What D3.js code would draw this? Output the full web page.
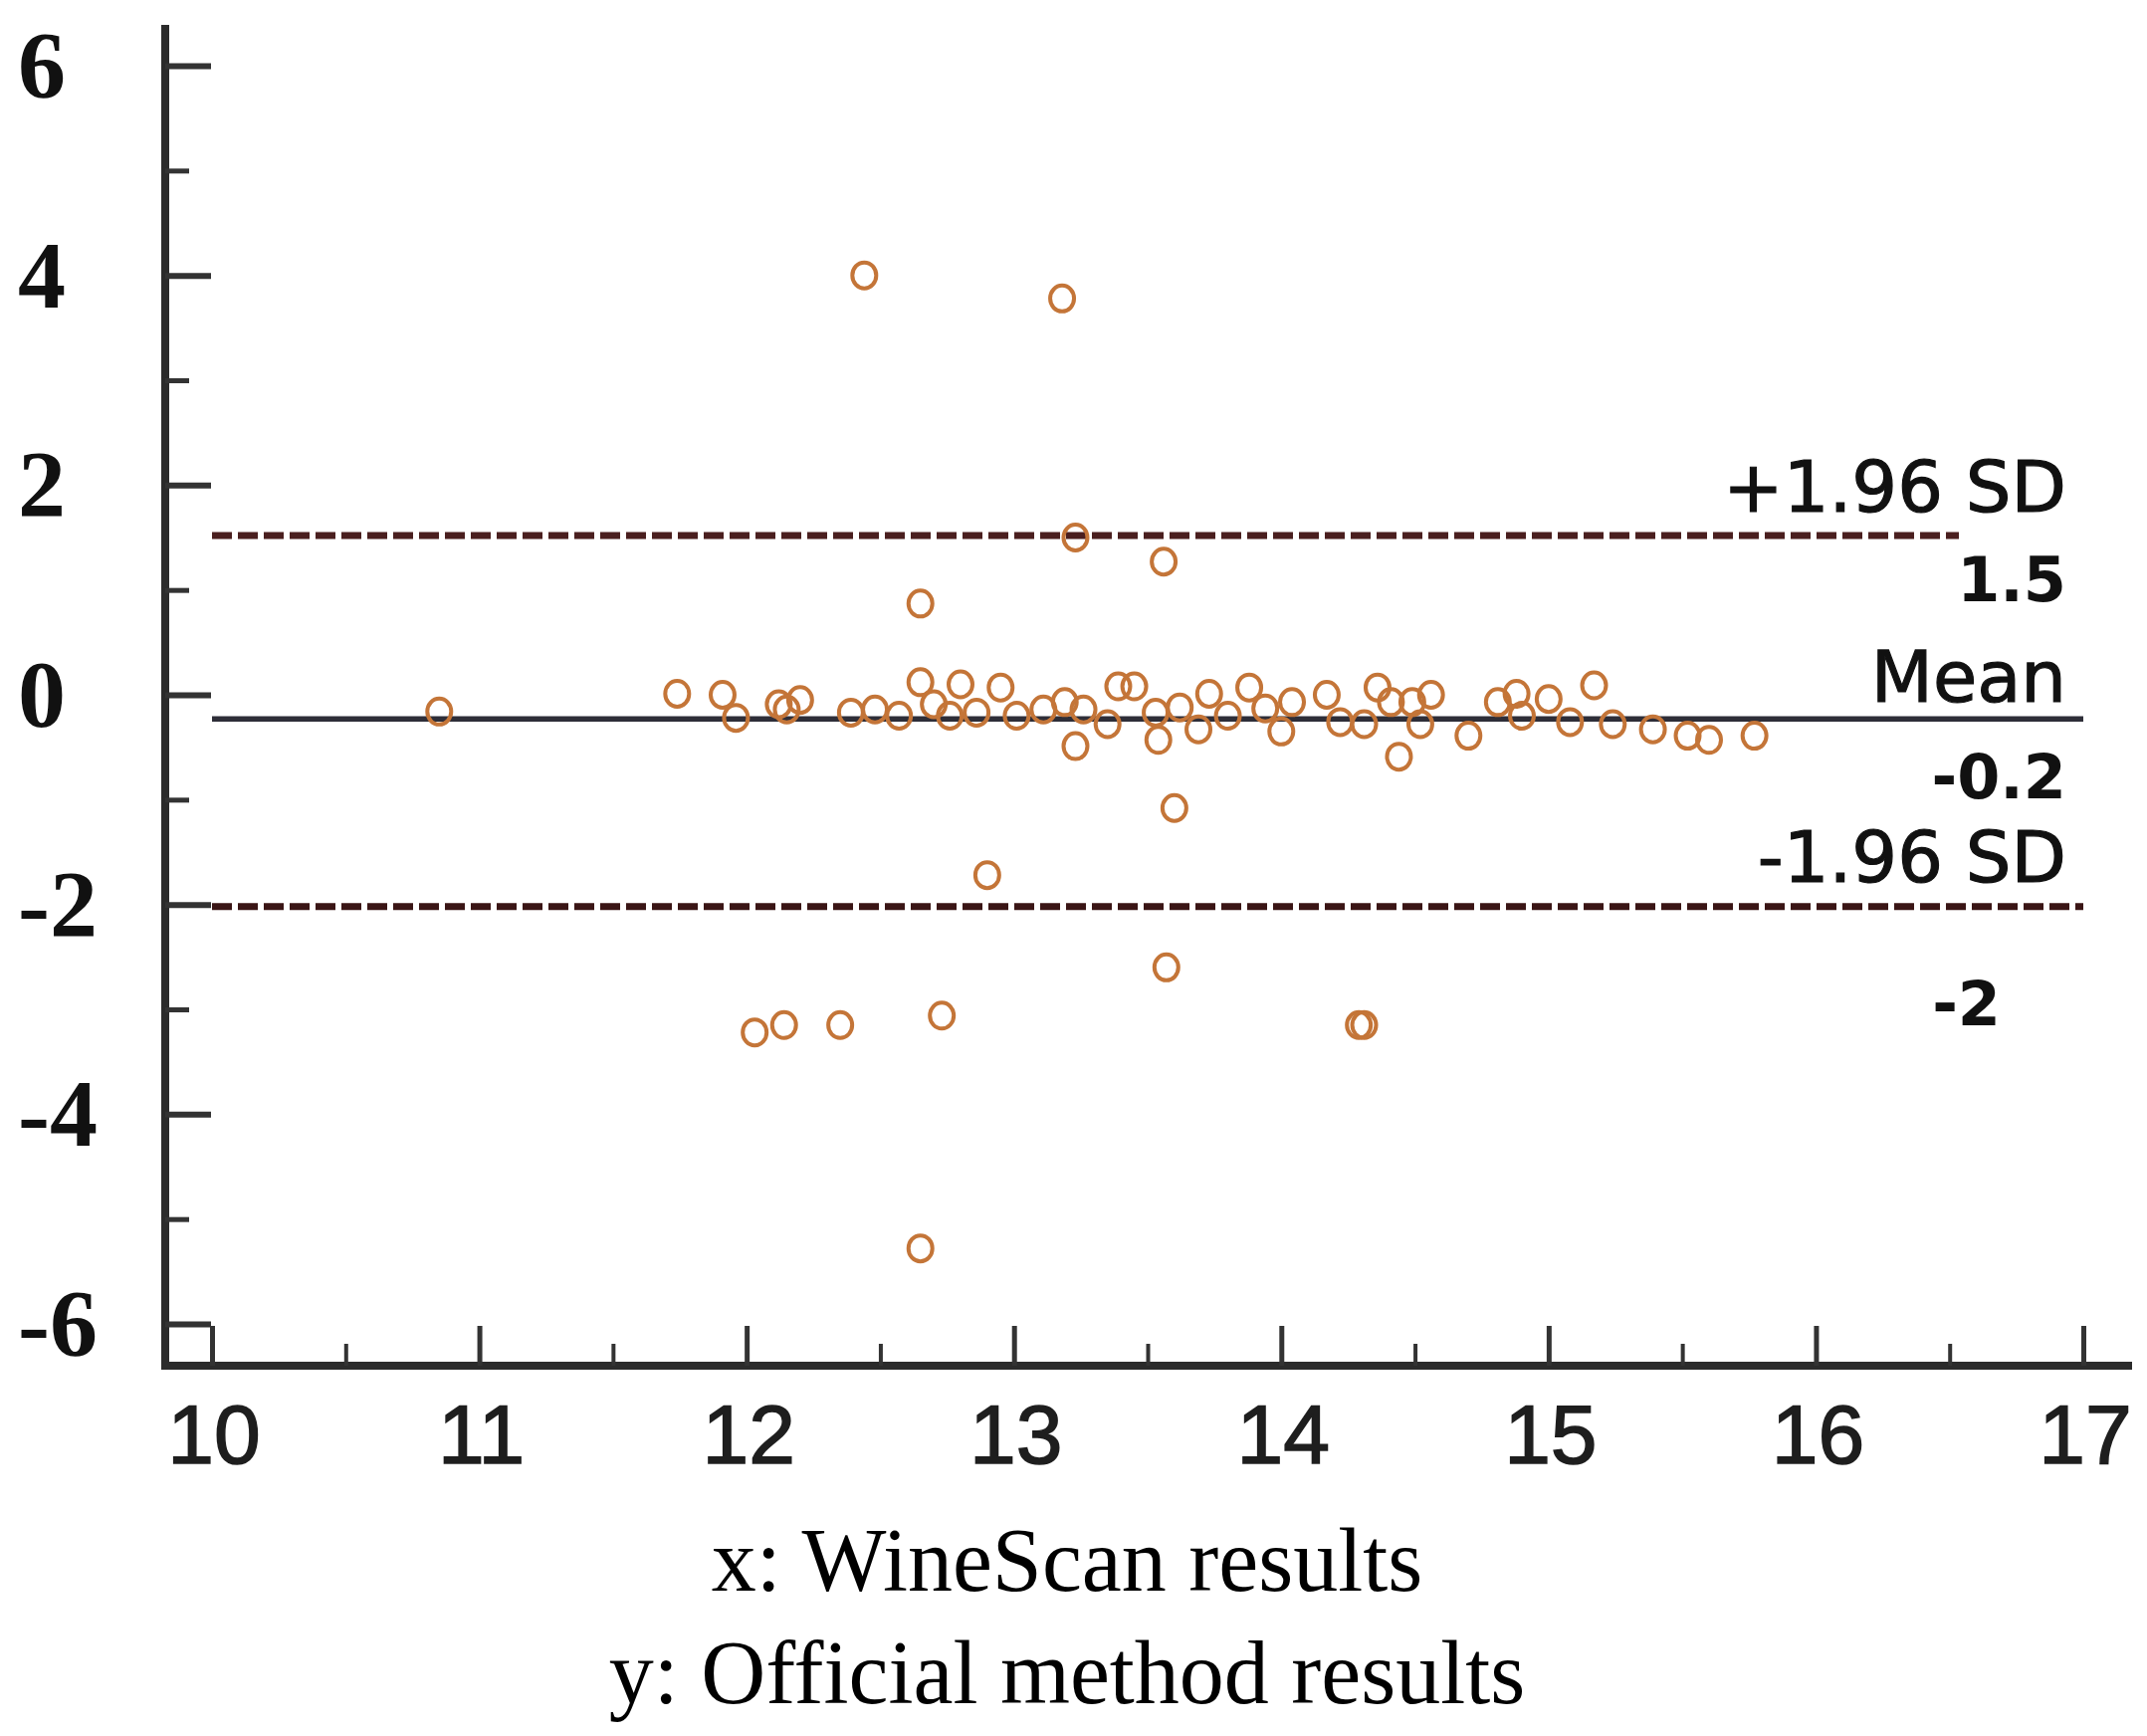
<!DOCTYPE html>
<html lang="en">
<head>
<meta charset="utf-8" />
<title>Bland-Altman plot</title>
<script src="https://d3js.org/d3.v7.min.js"></script>
<style>
  body { margin: 0; background: #fff; }
</style>
</head>
<body>
<div id="chart"></div>
<script>
// mean of the two methods (x) and their difference (y)
var xVals = [10.85, 11.74, 11.91, 11.96, 12.12, 12.20, 12.15, 12.39, 12.48, 12.57,
  12.65, 12.70, 12.76, 12.80, 12.86, 12.95, 13.01, 13.11, 13.19, 13.23,
  13.26, 13.35, 13.39, 13.45, 13.53, 13.54, 13.62, 13.69, 13.73, 13.80,
  13.88, 13.94, 14.00, 14.04, 14.17, 14.22, 14.31, 14.36, 14.41, 14.44,
  14.49, 14.52, 14.56, 14.70, 14.81, 14.88, 14.90, 15.00, 15.08, 15.17,
  15.24, 15.39, 15.52, 15.60, 15.77,
  12.44, 13.18, 13.23, 13.56, 12.65, 13.60, 12.90, 13.57, 12.03, 12.14,
  12.35, 12.73, 14.29, 14.31, 12.65];
var yVals = [-0.16, 0.01, 0.00, -0.22, -0.09, -0.05, -0.14, -0.17, -0.14, -0.20,
  0.12, -0.09, -0.20, 0.10, -0.17, 0.07, -0.20, -0.14, -0.07, -0.49,
  -0.14, -0.28, 0.08, 0.08, -0.17, -0.43, -0.12, -0.33, 0.01, -0.20,
  0.07, -0.13, -0.35, -0.07, 0.00, -0.26, -0.28, 0.07, -0.07, -0.59,
  -0.07, -0.28, 0.00, -0.39, -0.07, 0.01, -0.20, -0.04, -0.26, 0.09,
  -0.28, -0.33, -0.39, -0.43, -0.39,
  4.00, 3.78, 1.50, 1.27, 0.87, -1.08, -1.72, -2.60, -3.22, -3.15,
  -3.15, -3.06, -3.15, -3.15, -5.28];

var yTicks = [6, 4, 2, 0, -2, -4, -6];
var yMinor = [5, 3, 1, -1, -3, -5];
var xTicks = [10, 11, 12, 13, 14, 15, 16, 17];
var xMinor = [10.5, 11.5, 12.5, 13.5, 14.5, 15.5, 16.5];

var upperLimit = 1.52, meanDiff = -0.23, lowerLimit = -2.02;
var upperText = ["+1.96 SD", "1.5"];
var meanText = ["Mean", "-0.2"];
var lowerText = ["-1.96 SD", "-2"];
var captions = ["x: WineScan results", "y: Official method results"];

var width = 2157, height = 1744;
var axisX = 166, axisY = 1372;

var x = d3.scaleLinear().domain([10, 17]).range([213, 2093]);
var y = d3.scaleLinear().domain([-6, 6]).range([1330, 66]);

var svg = d3.select("#chart").append("svg")
  .attr("width", width)
  .attr("height", height)
  .style("background", "#fff");

// axis lines
svg.append("line")
  .attr("x1", axisX).attr("x2", axisX)
  .attr("y1", 25).attr("y2", axisY + 4)
  .attr("stroke", "#2b2b2b").attr("stroke-width", 8);
svg.append("line")
  .attr("x1", axisX - 4).attr("x2", 2142)
  .attr("y1", axisY).attr("y2", axisY)
  .attr("stroke", "#2b2b2b").attr("stroke-width", 8);

// ticks point inwards, labels drawn separately
function styleAxis(g, w) {
  g.select(".domain").remove();
  g.selectAll(".tick line").attr("stroke", "#333").attr("stroke-width", w);
  g.selectAll(".tick text").remove();
}
svg.append("g").attr("transform", "translate(" + axisX + ",0)")
  .call(d3.axisLeft(y).tickValues(yTicks).tickSize(-46))
  .call(styleAxis, 6);
svg.append("g").attr("transform", "translate(" + axisX + ",0)")
  .call(d3.axisLeft(y).tickValues(yMinor).tickSize(-24))
  .call(styleAxis, 5);
svg.append("g").attr("transform", "translate(0," + axisY + ")")
  .call(d3.axisBottom(x).tickValues(xTicks).tickSize(-40))
  .call(styleAxis, 5);
svg.append("g").attr("transform", "translate(0," + axisY + ")")
  .call(d3.axisBottom(x).tickValues(xMinor).tickSize(-22))
  .call(styleAxis, 4);

// tick labels
svg.selectAll(".ylab").data(yTicks).enter().append("text")
  .attr("class", "ylab")
  .attr("x", 18)
  .attr("y", function(d) { return y(d) + 32; })
  .attr("font-family", "Liberation Serif, serif")
  .attr("font-weight", "bold")
  .attr("font-size", 96)
  .attr("fill", "#111")
  .text(function(d) { return d < 0 ? "-" + Math.abs(d) : d; });

svg.selectAll(".xlab").data(xTicks).enter().append("text")
  .attr("class", "xlab")
  .attr("x", function(d) { return x(d) + 2; })
  .attr("y", 1470)
  .attr("text-anchor", "middle")
  .attr("font-family", "Liberation Sans, Arial, sans-serif")
  .attr("font-size", 84)
  .attr("stroke", "#1e1e1e")
  .attr("stroke-width", 1.5)
  .attr("fill", "#1e1e1e")
  .text(function(d) { return d; });

// limit lines
svg.append("line")
  .attr("x1", x(10)).attr("x2", 1968)
  .attr("y1", y(upperLimit)).attr("y2", y(upperLimit))
  .attr("stroke", "#4a1f1f").attr("stroke-width", 7)
  .attr("stroke-dasharray", "20,6");
svg.append("line")
  .attr("x1", x(10)).attr("x2", x(17))
  .attr("y1", y(lowerLimit)).attr("y2", y(lowerLimit))
  .attr("stroke", "#3a1515").attr("stroke-width", 7)
  .attr("stroke-dasharray", "20,6");
svg.append("line")
  .attr("x1", x(10)).attr("x2", x(17))
  .attr("y1", y(meanDiff)).attr("y2", y(meanDiff))
  .attr("stroke", "#2e2e38").attr("stroke-width", 5.5);

// points
svg.selectAll(".pt").data(xVals).enter().append("ellipse")
  .attr("class", "pt")
  .attr("cx", function(d) { return x(d); })
  .attr("cy", function(d, i) { return y(yVals[i]); })
  .attr("rx", 12)
  .attr("ry", 13)
  .attr("fill", "none")
  .attr("stroke", "#c47538")
  .attr("stroke-width", 4);

// labels at the right
function rightLabel(txt, yy, bold, rx) {
  svg.append("text")
    .attr("x", rx || 2076)
    .attr("y", yy)
    .attr("text-anchor", "end")
    .attr("font-family", "DejaVu Sans, Verdana, sans-serif")
    .attr("font-weight", bold ? "bold" : "normal")
    .attr("font-size", bold ? 62 : 72)
    .attr("stroke", "#111")
    .attr("stroke-width", bold ? 0 : 1.2)
    .attr("fill", "#111")
    .text(txt);
}
rightLabel(upperText[0], y(upperLimit) - 24, false);
rightLabel(upperText[1], y(upperLimit) + 66, true);
rightLabel(meanText[0], y(meanDiff) - 17, false);
rightLabel(meanText[1], y(meanDiff) + 80, true);
rightLabel(lowerText[0], y(lowerLimit) - 25, false);
rightLabel(lowerText[1], y(lowerLimit) + 119, true, 2010);

// captions
svg.selectAll(".cap").data(captions).enter().append("text")
  .attr("class", "cap")
  .attr("x", 1072)
  .attr("y", function(d, i) { return 1598 + i * 113; })
  .attr("text-anchor", "middle")
  .attr("font-family", "Liberation Serif, serif")
  .attr("font-size", 90)
  .attr("fill", "#000")
  .text(function(d) { return d; });
</script>
</body>
</html>
